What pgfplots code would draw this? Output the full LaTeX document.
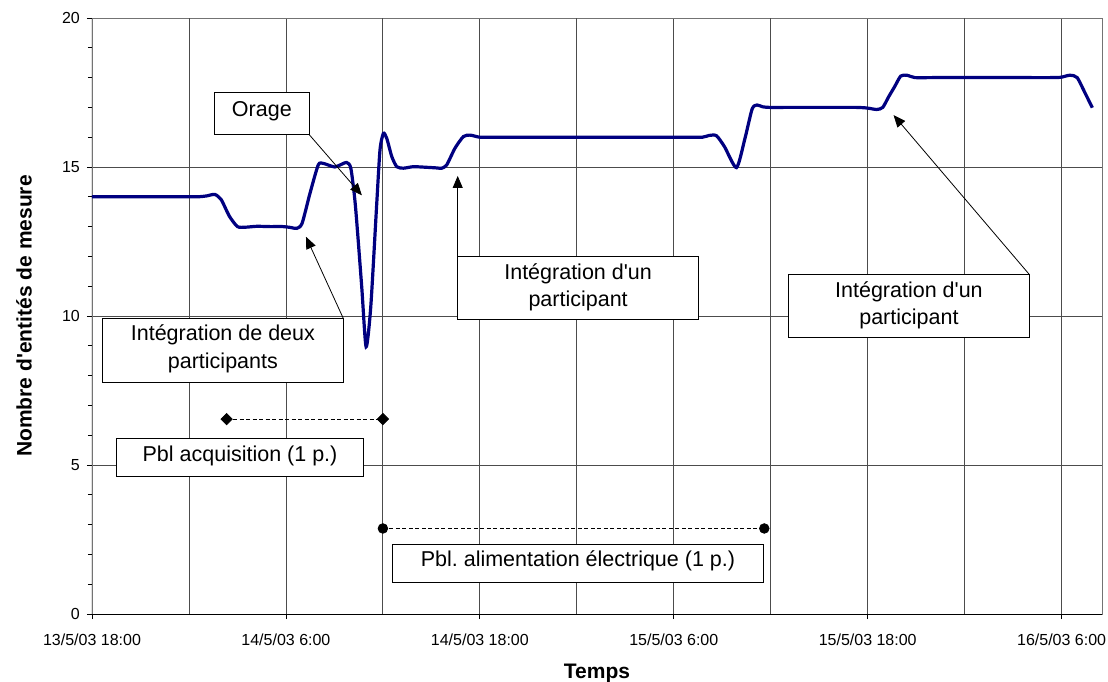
\documentclass[border=0pt]{standalone}
\usepackage{fontspec}
\setmainfont{Liberation Sans}
\usepackage{pgfplots}
\pgfplotsset{compat=1.18}
\usetikzlibrary{arrows.meta}
\definecolor{seriesblue}{RGB}{0,0,128}
\newcommand\tickfont{\fontsize{16}{19}\selectfont}
\newcommand\boxfont{\fontsize{21.5}{26}\selectfont}
\newcommand\titlefont{\fontsize{21}{25}\selectfont\bfseries}
\newcommand\q{\textquotesingle}
\frenchspacing

% Number of measuring entities over time (hours since 13/5/03 18:00)
\pgfplotstableread{
h      n
0      14.00
1      14.00
3      14.00
5      14.00
6.5    14.00
7.1    14.03
7.6    14.08
8.0    13.90
8.5    13.35
9.0    13.00
9.5    12.98
10.2   13.01
11.0   13.00
11.8   13.00
12.3   12.97
12.67  12.94
13.0   13.11
13.49  14.12
14.0   15.07
14.31  15.12
14.7   15.05
15.03  15.00
15.4   15.08
15.76  15.15
16.02  14.95
16.3   13.70
16.69  10.98
16.96  8.97
17.25  10.31
17.62  13.78
17.82  15.57
18.03  16.13
18.24  15.96
18.55  15.35
18.86  15.01
19.27  14.96
19.88  15.01
20.7   14.99
21.3   14.97
21.64  14.96
21.95  15.07
22.46  15.63
22.98  16.02
23.39  16.07
24.0   16.00
25     16.00
27     16.00
30     16.00
33     16.00
35     16.00
36.7   16.00
37.77  16.00
38.2   16.06
38.64  16.05
39.14  15.68
39.88  14.98
40.4   15.95
40.85  16.95
41.15  17.08
41.5   17.02
41.92  17.00
42.8   17.00
44     17.00
46     17.00
47.3   17.00
47.95  16.98
48.56  16.93
48.93  17.00
49.3   17.36
49.67  17.70
50.04  18.05
50.42  18.08
50.92  18.00
52     18.00
54     18.00
56     18.00
58     18.00
59.3   18.00
59.94  18.01
60.52  18.08
60.96  18.00
61.46  17.47
61.9   16.99
}\entites

\begin{document}
\begin{tikzpicture}
\useasboundingbox (-92pt,-67pt) rectangle (1016pt,614pt);
\begin{axis}[
  at={(0,0)}, anchor=south west,
  scale only axis, width=1010pt, height=596pt,
  xmin=0, xmax=62.5, ymin=0, ymax=20,
  xtick={0,12,24,36,48,60},
  xticklabels={13/5/03 18:00, 14/5/03 6:00, 14/5/03 18:00, 15/5/03 6:00, 15/5/03 18:00, 16/5/03 6:00},
  extra x ticks={6,18,30,42,54},
  extra x tick labels={},
  extra x tick style={major tick length=0pt, grid=major},
  ytick={0,5,10,15,20},
  minor ytick={1,2,3,4,6,7,8,9,11,12,13,14,16,17,18,19},
  xmajorgrids, ymajorgrids,
  major grid style={black!70, line width=0.8pt},
  tick pos=left, tick align=outside,
  major tick length=5pt, minor tick length=4pt,
  tick style={black, line width=0.8pt},
  axis line style={black!55, line width=0.8pt},
  /pgf/number format/assume math mode=true,
  ticklabel style={font=\tickfont},
  xticklabel style={anchor=base, inner sep=0pt, yshift=-26.7pt},
  yticklabel style={anchor=east, inner sep=0pt, xshift=-7pt},
  xlabel={Temps},
  xlabel style={at={(axis description cs:0.5,0)}, anchor=base, yshift=-64pt, font=\titlefont},
  ylabel={Nombre d\q{}entités de mesure},
  ylabel style={at={(axis description cs:0,0.5)}, anchor=center, yshift=68pt, font=\titlefont},
]
\addplot[seriesblue, line width=3.2pt, smooth, tension=0.4] table[x=h, y=n] {\entites};

% Acquisition problem (1 participant)
\addplot[black, line width=0.8pt, dash pattern=on 4pt off 2.5pt,
  mark=square*, mark size=4pt, mark options={solid, rotate=45}]
  coordinates {(8.33,6.54) (18.0,6.54)};
% Power supply problem (1 participant)
\addplot[black, line width=0.8pt, dash pattern=on 4pt off 2.5pt,
  mark=*, mark size=4.8pt, mark options={solid}]
  coordinates {(18.0,2.87) (41.6,2.87)};

% left and bottom axis lines
\draw[black, line width=1pt] (rel axis cs:0,1) -- (rel axis cs:0,0) -- (rel axis cs:1,0);

% annotation boxes
\tikzset{abox/.style={fill=white, draw=black, line width=0.9pt},
         atext/.style={anchor=base, font=\boxfont, inner sep=0pt},
         aarrow/.style={line width=0.8pt, -{Triangle[length=12pt,width=10pt]}}}
\draw[abox] (axis cs:7.57,16.08) rectangle (axis cs:13.45,17.49);
\node[atext] at (axis cs:10.51,16.71) {Orage};
\draw[aarrow] (axis cs:13.45,16.08) -- (axis cs:16.7,14.05);

\draw[abox] (axis cs:0.64,7.78) rectangle (axis cs:15.55,9.92);
\node[atext] at (axis cs:8.10,9.17) {Intégration de deux};
\node[atext] at (axis cs:8.10,8.24) {participants};
\draw[aarrow] (axis cs:15.55,9.92) -- (axis cs:13.24,12.66);

\draw[abox] (axis cs:22.63,9.90) rectangle (axis cs:37.52,12.01);
\node[atext] at (axis cs:30.08,11.23) {Intégration d\q{}un};
\node[atext] at (axis cs:30.08,10.31) {participant};
\draw[aarrow] (axis cs:22.63,12.01) -- (axis cs:22.63,14.70);

\draw[abox] (axis cs:43.11,9.27) rectangle (axis cs:57.99,11.40);
\node[atext] at (axis cs:50.55,10.61) {Intégration d\q{}un};
\node[atext] at (axis cs:50.55,9.70) {participant};
\draw[aarrow] (axis cs:57.99,11.40) -- (axis cs:49.6,16.74);

\draw[abox] (axis cs:1.53,4.61) rectangle (axis cs:16.79,5.90);
\node[atext] at (axis cs:9.16,5.11) {Pbl acquisition (1 p.)};

\draw[abox] (axis cs:18.58,1.06) rectangle (axis cs:41.55,2.34);
\node[atext] at (axis cs:30.07,1.59) {Pbl. alimentation électrique (1 p.)};
\end{axis}
\end{tikzpicture}
\end{document}
